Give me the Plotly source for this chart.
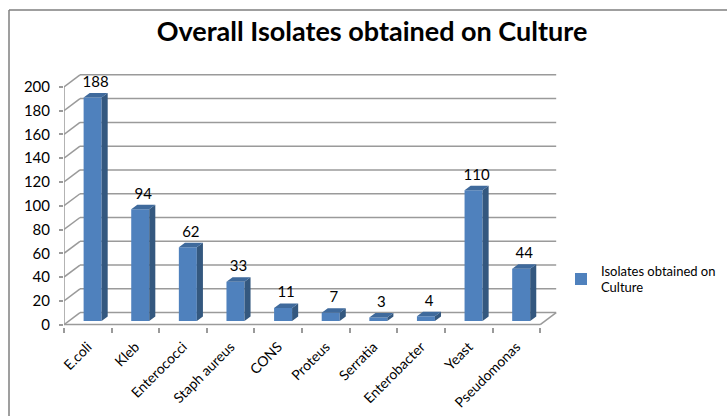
import plotly.graph_objects as go

# ---- data ----
categories = ["E.coli", "Kleb", "Enterococci", "Staph aureus", "CONS",
              "Proteus", "Serratia", "Enterobacter", "Yeast", "Pseudomonas"]
isolates = [188, 94, 62, 33, 11, 7, 3, 4, 110, 44]
y_ticks = list(range(0, 201, 20))
series_name = "Isolates obtained on<br>Culture"

# ---- layout geometry (pixels) ----
W, H = 727, 416
ML, MR, MT, MB = 64, 163, 69, 89
X_RANGE = [0, 10.5]
Y_RANGE = [-2, 215]
plot_w = W - ML - MR
plot_h = H - MT - MB
px_x = plot_w / (X_RANGE[1] - X_RANGE[0])
px_y = plot_h / (Y_RANGE[1] - Y_RANGE[0])

# oblique depth of the 3-D box, converted to axis units
DEPTH_X = 16 / px_x
DEPTH_Y = 12 / px_y
F0, F1 = 0.30, 0.68          # bar depth slice inside the box
BAR_W = 18 / px_x

FRONT = "#4F81BD"
SIDE = "#34587F"
TOP = "#3F6A9C"
GRID = "#9A9A9A"
FONT = "Lato, 'Open Sans', sans-serif"

n = len(categories)
shapes = []
line = dict(color=GRID, width=1.5)

# back wall gridlines + left wall diagonals
for v in y_ticks:
    shapes.append(dict(type="line", xref="x", yref="y", layer="below",
                       x0=DEPTH_X, y0=v + DEPTH_Y, x1=n + DEPTH_X, y1=v + DEPTH_Y, line=line))
    shapes.append(dict(type="line", xref="x", yref="y", layer="below",
                       x0=0, y0=v, x1=DEPTH_X, y1=v + DEPTH_Y, line=line))
# floor front edge, floor right edge, front value axis
shapes.append(dict(type="line", xref="x", yref="y", layer="below",
                   x0=0, y0=0, x1=n, y1=0, line=line))
shapes.append(dict(type="line", xref="x", yref="y", layer="below",
                   x0=n, y0=0, x1=n + DEPTH_X, y1=DEPTH_Y, line=line))
shapes.append(dict(type="line", xref="x", yref="y", layer="below",
                   x0=0, y0=0, x1=0, y1=y_ticks[-1], line=line))

# chart-area frame (left and top edges)
def paper_x(px):
    return (px - ML) / plot_w


def paper_y(py):
    return (H - MB - py) / plot_h


frame = dict(color="#7F7F7F", width=1.5)
shapes.append(dict(type="line", xref="paper", yref="paper",
                   x0=paper_x(9), y0=paper_y(10), x1=paper_x(9), y1=paper_y(H + 5), line=frame))
shapes.append(dict(type="line", xref="paper", yref="paper",
                   x0=paper_x(9), y0=paper_y(10), x1=paper_x(W + 5), y1=paper_y(10), line=frame))

# ---- bars ----
b0 = F0 * DEPTH_Y
b1 = F1 * DEPTH_Y
d = (F1 - F0) * DEPTH_X
centers = [i + 0.5 + F0 * DEPTH_X for i in range(n)]

side_x, side_y, top_x, top_y = [], [], [], []
for xc, v in zip(centers, isolates):
    xl, xr = xc - BAR_W / 2, xc + BAR_W / 2
    side_x += [xr, xr, xr + d, xr + d, xr, None]
    side_y += [b0, b0 + v, b1 + v, b1, b0, None]
    top_x += [xl, xr, xr + d, xl + d, xl, None]
    top_y += [b0 + v, b0 + v, b1 + v, b1 + v, b0 + v, None]

fig = go.Figure()
fig.add_trace(go.Bar(
    x=centers, y=isolates, base=[b0] * n, width=BAR_W,
    marker=dict(color=FRONT, line=dict(width=0)),
    name=series_name, showlegend=True, hoverinfo="skip",
))
fig.add_trace(go.Scatter(x=side_x, y=side_y, mode="lines", fill="toself",
                         fillcolor=SIDE, line=dict(width=0, color=SIDE),
                         showlegend=False, hoverinfo="skip"))
fig.add_trace(go.Scatter(x=top_x, y=top_y, mode="lines", fill="toself",
                         fillcolor=TOP, line=dict(width=0, color=TOP),
                         showlegend=False, hoverinfo="skip"))
# value labels above each bar
fig.add_trace(go.Scatter(
    x=[c + d / 2 for c in centers], y=[v + b1 + 2 for v in isolates],
    mode="text", text=[str(v) for v in isolates], textposition="top center",
    textfont=dict(family=FONT, size=15, color="#000000"),
    showlegend=False, hoverinfo="skip", cliponaxis=False,
))

fig.update_layout(
    width=W, height=H,
    margin=dict(l=ML, r=MR, t=MT, b=MB, autoexpand=False),
    paper_bgcolor="white", plot_bgcolor="white",
    font=dict(family=FONT, size=14, color="#000000"),
    title=dict(text="<b>Overall Isolates obtained on Culture</b>",
               x=(372) / W, xanchor="center", y=1 - 32 / H, yanchor="middle",
               font=dict(family=FONT, size=27, color="#000000")),
    shapes=shapes,
    showlegend=True,
    legend=dict(x=paper_x(561), y=paper_y(279), xanchor="left", yanchor="middle",
                font=dict(family=FONT, size=13, color="#000000"),
                bgcolor="rgba(0,0,0,0)", itemwidth=30, tracegroupgap=0),
    xaxis=dict(range=X_RANGE, showgrid=False, zeroline=False, showline=False,
               tickmode="array", tickvals=[i + 0.5 for i in range(n)], ticktext=categories,
               tickangle=-45, ticks="", tickfont=dict(family=FONT, size=14),
               ticklabelstandoff=8,
               minor=dict(tickmode="array", tickvals=list(range(n + 1)), ticks="outside",
                          ticklen=5, tickcolor=GRID, tickwidth=1.5, showgrid=False),
               fixedrange=True),
    yaxis=dict(range=Y_RANGE, showgrid=False, zeroline=False, showline=False,
               tickmode="array", tickvals=y_ticks, ticks="outside", ticklen=4,
               tickcolor=GRID, tickwidth=1.5, tickfont=dict(family=FONT, size=15),
               ticklabelstandoff=6, fixedrange=True),
)

fig.write_html("out.html")
